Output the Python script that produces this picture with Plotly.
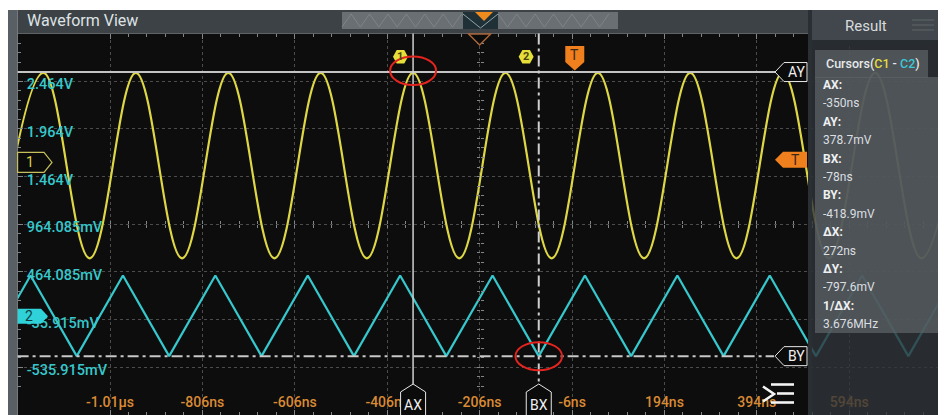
import plotly.graph_objects as go

W, H = 946, 415
OX, OY = 8, 8  # page offset of the figure (browser body margin)

# ---------------- data ----------------
time_ticks = [-1006, -806, -606, -406, -206, -6, 194, 394, 594]
time_labels = ["-1.01µs", "-806ns", "-606ns", "-406ns", "-206ns", "-6ns", "194ns", "394ns", "594ns"]
volt_ticks = [2.464, 1.964, 1.464, 0.964085, 0.464085, -0.035915, -0.535915]
volt_labels = ["2.464V", "1.964V", "1.464V", "964.085mV", "464.085mV", "-35.915mV", "-535.915mV"]

x_range = [-1206, 820.8]
y_range = [-1.035915, 2.964085]

# CH1 sine: turning points (time ns, volts on displayed scale)
ch1_time = [-1250, -1150, -1050, -950, -850, -750, -650, -550, -450, -350, -250,
            -150, -50, 50, 150, 250, 350, 450, 550, 650, 750, 850]
ch1_volts = [0.607, 2.552, 0.607, 2.552, 0.607, 2.552, 0.607, 2.552, 0.607, 2.552, 0.607,
             2.552, 0.607, 2.552, 0.607, 2.552, 0.607, 2.552, 0.607, 2.552, 0.607, 2.552]

# CH2 triangle: vertices (time ns, volts)
ch2_time = [-1278, -1178, -1078, -978, -878, -778, -678, -578, -478, -378, -278,
            -178, -78, 22, 122, 222, 322, 422, 522, 622, 722, 822]
ch2_volts = [-0.419, 0.427, -0.419, 0.427, -0.419, 0.427, -0.419, 0.427, -0.419, 0.427, -0.419,
             0.427, -0.419, 0.427, -0.419, 0.427, -0.419, 0.427, -0.419, 0.427, -0.419, 0.427]

# cursors / markers
AX_T, BX_T = -350, -78
AY_V, BY_V = 2.56, -0.4189
TRIG_T, TRIG_V = 0, 1.64
CH1_LEVEL, CH2_LEVEL = 1.612, 0.0
CENTER_T, CENTER_V = -206, 0.964085

readout = [("AX:", "-350ns"), ("AY:", "378.7mV"), ("BX:", "-78ns"), ("BY:", "-418.9mV"),
           ("ΔX:", "272ns"), ("ΔY:", "-797.6mV"), ("1/ΔX:", "3.676MHz")]

# ---------------- styling helpers ----------------
FONT = "Roboto, 'Noto Sans', sans-serif"
YEL = "#ddd645"
CYA = "#36c8cc"
ORG = "#d98a34"
GRID = "#4c4c4c"
TICK = "#80868a"

PLOT_L, PLOT_T, PLOT_B = 17.6, 33.5, 415


def px(x):
    return (x - OX) / W


def py(y):
    return 1 - (y - OY) / H


def rect(x0, y0, x1, y1, fill, opacity=1, layer="above"):
    return dict(type="rect", xref="paper", yref="paper", x0=px(x0), x1=px(x1), y0=py(y1), y1=py(y0),
                fillcolor=fill, opacity=opacity, layer=layer, line=dict(color=fill, width=0))


def poly(pts, xdata=None, ydata=None, fill=None, line_color=None, lw=1, closed=True, opacity=1):
    """pts in page pixels; if xdata/ydata given, that coordinate is an offset from the data anchor."""
    sx = 0 if xdata is not None else OX
    sy = 0 if ydata is not None else OY
    path = "M " + " L ".join(f"{(dx - sx):.2f},{-(dy - sy):.2f}" for dx, dy in pts)
    if closed:
        path += " Z"
    d = dict(type="path", path=path,
             xref="x" if xdata is not None else "paper", xanchor=xdata if xdata is not None else 0,
             yref="y" if ydata is not None else "paper", yanchor=ydata if ydata is not None else 1,
             xsizemode="pixel", ysizemode="pixel", layer="above", opacity=opacity,
             line=dict(color=line_color or "rgba(0,0,0,0)", width=lw))
    if fill:
        d["fillcolor"] = fill
    return d


def ann(text, x, y, color="#e0e0e0", size=13, xanchor="center", xref="paper", yref="paper",
        weight="normal"):
    return dict(text=text, x=x, y=y, xref=xref, yref=yref, showarrow=False, xanchor=xanchor,
                yanchor="middle", font=dict(family=FONT, size=size, color=color, weight=weight))


fig = go.Figure()

fig.add_trace(go.Scatter(x=ch1_time, y=ch1_volts, mode="lines", name="C1",
                         line=dict(color=YEL, width=2.2, shape="spline", smoothing=1.09),
                         hoverinfo="skip", showlegend=False))
fig.add_trace(go.Scatter(x=ch2_time, y=ch2_volts, mode="lines", name="C2",
                         line=dict(color=CYA, width=2.2), hoverinfo="skip", showlegend=False))
# empty traces so the centre-cross tick axes are drawn
for xa, ya in [("x2", "y"), ("x3", "y"), ("x", "y2"), ("x", "y3")]:
    fig.add_trace(go.Scatter(x=[None], y=[None], xaxis=xa, yaxis=ya, showlegend=False,
                             hoverinfo="skip"))

shapes = []
annotations = []

# ---------- chrome ----------
shapes.append(rect(8, 10, PLOT_L, 423, "#596065"))
shapes.append(rect(PLOT_L, 10, 808, PLOT_T, "#3c4246"))
annotations.append(ann("Waveform View", px(25), py(21), "#dfe2e5", 16, "left"))
# overview bar
shapes.append(rect(342, 12, 618, 29, "#6a6f73"))
zig = []
xz = 342
k = 0
while xz <= 618:
    zig.append((xz, 27 if k % 2 == 0 else 14))
    xz += 9.2
    k += 1
shapes.append(poly(zig, line_color="#7f8488", lw=1, closed=False))
shapes.append(rect(463, 12, 498, 29, "#1f3137"))
shapes.append(poly([(463, 14), (480.5, 28), (498, 14)], line_color="#8fa4aa", lw=1, closed=False))
shapes.append(poly([(475, 12), (493, 12), (484, 21)], fill="#f08c1e"))

# ---------- cursor lines ----------
shapes.append(dict(type="line", xref="paper", yref="y", x0=px(PLOT_L), x1=px(776), y0=AY_V, y1=AY_V,
                   layer="above", line=dict(color="#c4c4c4", width=2)))
shapes.append(dict(type="line", xref="paper", yref="y", x0=px(PLOT_L), x1=px(774), y0=BY_V, y1=BY_V,
                   layer="above", line=dict(color="#c8c8c8", width=2, dash="11px,4px,3px,4px")))
shapes.append(dict(type="line", xref="x", yref="paper", x0=AX_T, x1=AX_T, y0=py(PLOT_T), y1=py(385),
                   layer="above", line=dict(color="#cfcfcf", width=1.5)))
shapes.append(dict(type="line", xref="x", yref="paper", x0=BX_T, x1=BX_T, y0=py(PLOT_T), y1=py(385),
                   layer="above", line=dict(color="#cfcfcf", width=2, dash="11px,4px,3px,4px")))

# AY / BY flags
for val, lab in [(AY_V, "AY"), (BY_V, "BY")]:
    shapes.append(poly([(775, 0), (784, -9.5), (807, -9.5), (807, 9.5), (784, 9.5)],
                       ydata=val, fill="#0b0b0b", line_color="#e8e8e8", lw=1))
    annotations.append(ann(lab, px(796), val, "#f0f0f0", 14, yref="y"))
# AX / BX flags
for val, lab in [(AX_T, "AX"), (BX_T, "BX")]:
    shapes.append(poly([(0, 384), (12.5, 392), (12.5, 424), (-12.5, 424), (-12.5, 392)],
                       xdata=val, fill="#0b0b0b", line_color="#e8e8e8", lw=1))
    annotations.append(ann(lab, val, py(405), "#f0f0f0", 14, xref="x"))

# cursor hexagons "1" and "2" at top
for val, lab in [(AX_T, "1"), (BX_T, "2")]:
    cx = -12.6
    shapes.append(poly([(cx - 7.5, 56.7), (cx - 3.8, 50), (cx + 3.8, 50), (cx + 7.5, 56.7),
                        (cx + 3.8, 63.4), (cx - 3.8, 63.4)], xdata=val, fill="#e6df3a"))
    annotations.append(dict(text=lab, x=val, y=py(57), xref="x", yref="paper", xshift=cx,
                            showarrow=False, yanchor="middle",
                            font=dict(family=FONT, size=11, color="#4a4510", weight="bold")))

# trigger position marker (top)
shapes.append(poly([(-9.5, 46), (9.5, 46), (9.5, 62), (0, 70.5), (-9.5, 62)],
                   xdata=TRIG_T, fill="#f07f1e"))
annotations.append(ann("T", TRIG_T, py(55), "#3a2a18", 14, xref="x"))
# horizontal position marker (outline triangle)
shapes.append(poly([(-11, 34), (11, 34), (0, 45)], xdata=CENTER_T, fill="#0b0b0b",
                   line_color="#a8643a", lw=1.5))
# trigger level flag (right)
shapes.append(poly([(775, 0), (783, -8), (807, -8), (807, 8), (783, 8)],
                   ydata=TRIG_V, fill="#f07f1e"))
annotations.append(ann("T", px(795), TRIG_V, "#3a2a18", 14, yref="y"))

# channel markers (left)
shapes.append(poly([(17.6, -10), (44, -10), (52, 0), (44, 10), (17.6, 10)],
                   ydata=CH1_LEVEL, fill="#0b0b0b", line_color="#c6bf5c", lw=1.2))
annotations.append(ann("1", px(30), CH1_LEVEL, YEL, 14, yref="y"))
shapes.append(poly([(17.6, -7.5), (41, -7.5), (48, 0), (41, 7.5), (17.6, 7.5)],
                   ydata=CH2_LEVEL, fill="#2ed2d8"))
annotations.append(ann("2", px(29), CH2_LEVEL, "#123c40", 14, yref="y"))

# red highlight ellipses
shapes.append(dict(type="circle", xref="x", yref="y", xsizemode="pixel", ysizemode="pixel",
                   xanchor=AX_T, yanchor=AY_V, x0=-23, x1=23, y0=-13, y1=15.5, layer="above",
                   line=dict(color="#e3241f", width=2)))
shapes.append(dict(type="circle", xref="x", yref="y", xsizemode="pixel", ysizemode="pixel",
                   xanchor=BX_T, yanchor=BY_V, x0=-23.3, x1=23.3, y0=-14, y1=14, layer="above",
                   line=dict(color="#e3241f", width=2)))

# menu icon
shapes.append(poly([(763, 386.5), (774, 394), (763, 401.5)], line_color="#f4f4f4", lw=2.6,
                   closed=False))
for (a, b, yy) in [(771, 794, 384.5), (777, 794, 393.5), (771, 794, 402.5)]:
    shapes.append(poly([(a, yy), (b, yy)], line_color="#f4f4f4", lw=2.6, closed=False))

# ---------- right result panel ----------
shapes.append(rect(808, 42, 960, 430, "#2f3539", opacity=0.8))
shapes.append(rect(808, 10, 960, 42, "#41474c"))
shapes.append(rect(808, 40, 960, 44, "#272c30"))
shapes.append(rect(808, 10, 812, 430, "#2a2f33"))
annotations.append(ann("Result", px(866), py(26), "#d8dbde", 15))
for yy in [20, 25, 30]:
    shapes.append(poly([(912, yy), (934, yy)], line_color="#565c61", lw=1.5, closed=False))
shapes.append(rect(815, 50, 928, 78, "#5c6267", opacity=0.72))
shapes.append(rect(815, 77, 938, 333, "#5c6267", opacity=0.72))
annotations.append(ann("Cursors(<span style='color:#e4dc3a'>C1</span> - "
                       "<span style='color:#3cc8d4'>C2</span>)",
                       px(824), py(64), "#e6e8ea", 12.5, "left", weight=500))
row_y = 85
for lab, val in readout:
    annotations.append(ann(lab, px(821), py(row_y), "#eef0f2", 12, "left", weight="bold"))
    annotations.append(ann(val, px(821), py(row_y + 18.4), "#dcdfe1", 12, "left"))
    row_y += 36.8

dom_x = [px(PLOT_L), 1]
dom_y = [py(PLOT_B), py(PLOT_T)]

fig.update_layout(
    width=W, height=H, margin=dict(l=0, r=0, t=0, b=0),
    paper_bgcolor="#ffffff", plot_bgcolor="#0d0d0d",
    showlegend=False, shapes=shapes, annotations=annotations,
    font=dict(family=FONT),
    xaxis=dict(domain=dom_x, range=x_range, tickmode="array", tickvals=time_ticks,
               ticktext=time_labels, ticklabelposition="inside",
               tickfont=dict(color=ORG, size=14, family=FONT, weight=500),
               showgrid=True, gridcolor=GRID, griddash="dot", gridwidth=1, zeroline=False,
               showline=False, ticks="inside", ticklen=5, tickcolor=TICK, mirror="ticks",
               minor=dict(ticks="inside", ticklen=3, tickcolor=TICK, tickmode="linear",
                          tick0=-6, dtick=40, showgrid=False),
               fixedrange=True),
    yaxis=dict(domain=dom_y, range=y_range, tickmode="array", tickvals=volt_ticks,
               ticktext=volt_labels, ticklabelposition="inside", ticklabelstandoff=4,
               ticklabelshift=3,
               tickfont=dict(color=CYA, size=14.5, family=FONT, weight=500),
               showgrid=True, gridcolor=GRID, griddash="dot", gridwidth=1, zeroline=False,
               showline=False, ticks="inside", ticklen=5, tickcolor=TICK,
               minor=dict(ticks="inside", ticklen=3, tickcolor=TICK, tickmode="linear",
                          tick0=CENTER_V, dtick=0.1, showgrid=False),
               fixedrange=True),
)

common_x = dict(overlaying="x", anchor="free", position=py(224.3), range=x_range,
                showticklabels=False, showgrid=False, zeroline=False, showline=False,
                tickmode="array", tickvals=time_ticks, ticklen=3, tickcolor=TICK,
                domain=dom_x, fixedrange=True)
minor_x = dict(ticklen=3, tickcolor=TICK, tickmode="linear", tick0=-6, dtick=40)
fig.update_layout(
    xaxis2=dict(common_x, ticks="inside", minor=dict(minor_x, ticks="inside")),
    xaxis3=dict(common_x, ticks="outside", minor=dict(minor_x, ticks="outside")),
)
common_y = dict(overlaying="y", anchor="free", position=px(479.6), range=y_range,
                showticklabels=False, showgrid=False, zeroline=False, showline=False,
                tickmode="array", tickvals=volt_ticks, ticklen=3, tickcolor=TICK,
                domain=dom_y, fixedrange=True)
minor_y = dict(ticklen=3, tickcolor=TICK, tickmode="linear", tick0=CENTER_V, dtick=0.1)
fig.update_layout(
    yaxis2=dict(common_y, ticks="inside", minor=dict(minor_y, ticks="inside")),
    yaxis3=dict(common_y, ticks="outside", minor=dict(minor_y, ticks="outside")),
)

fig.write_html("out.html", config={"displayModeBar": False})
